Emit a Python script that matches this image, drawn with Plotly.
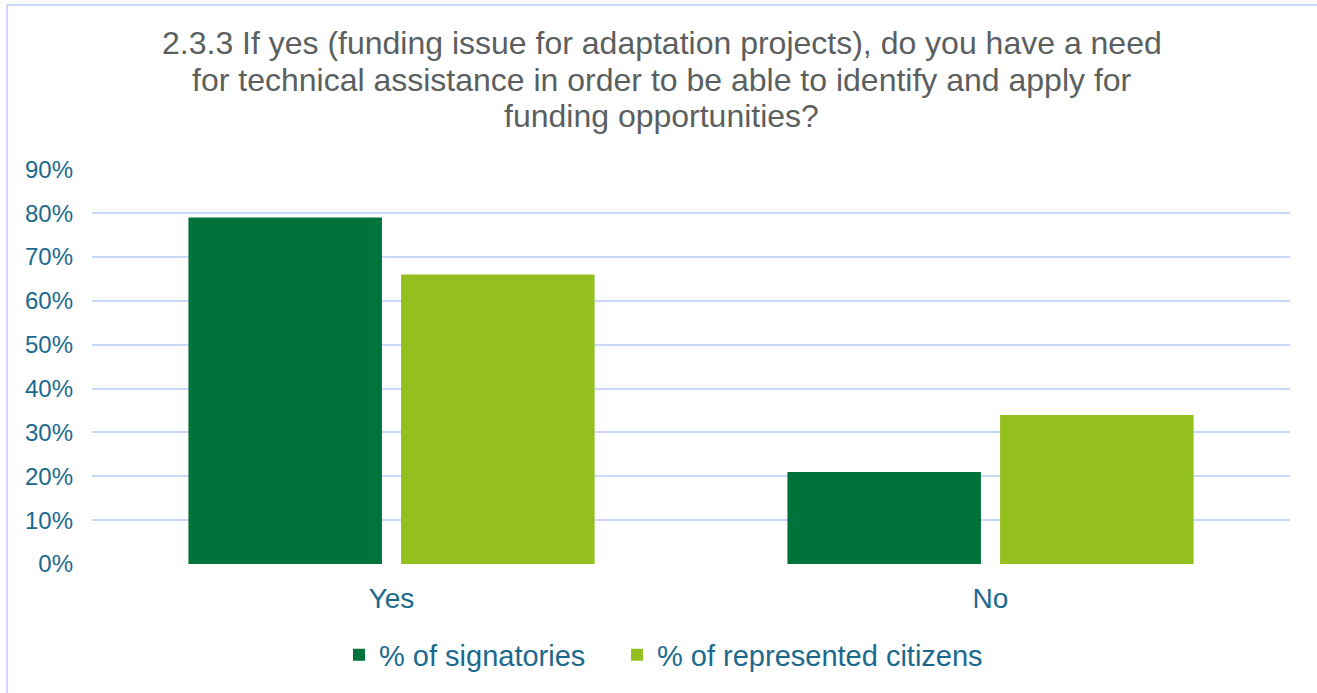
import plotly.graph_objects as go

# ---- data -------------------------------------------------------------
categories = ["Yes", "No"]
signatories = [0.79, 0.21]
represented_citizens = [0.66, 0.34]
series_names = ["% of signatories", "% of represented citizens"]
series_colors = ["#00733A", "#93C01F"]
y_tick_values = [0, 0.1, 0.2, 0.3, 0.4, 0.5, 0.6, 0.7, 0.8, 0.9]
y_tick_labels = ["0%", "10%", "20%", "30%", "40%", "50%", "60%", "70%", "80%", "90%"]
title_lines = [
    "2.3.3 If yes (funding issue for adaptation projects), do you have a need",
    "for technical assistance in order to be able to identify and apply for",
    "funding opportunities?",
]

# ---- layout geometry (pixels) -----------------------------------------
W, H = 1317, 693
M_L, M_R, M_T, M_B = 92, 27, 169, 129
PLOT_W = W - M_L - M_R
PLOT_H = H - M_T - M_B

FONT = "Liberation Sans, Arial, sans-serif"
AXIS_TEXT = "#1B6A8E"
TITLE_TEXT = "#5B5F5F"
GRID = "#C9D9F7"


def paper_x(px):
    return (px - M_L) / PLOT_W


def paper_y(py):
    return (H - M_B - py) / PLOT_H


# each series gets its own legend box so the two entries can be spaced freely
legend_ids = ["legend", "legend2"]
legend_left_px = [353, 631]

fig = go.Figure()
for name, vals, color, lid in zip(series_names, [signatories, represented_citizens],
                                  series_colors, legend_ids):
    fig.add_trace(go.Bar(name=name, x=categories, y=vals, legend=lid,
                         marker=dict(color=color, line=dict(width=0))))

# title, one annotation per line so the line spacing stays tight
title_centers = [43, 80, 116]
for line, cy in zip(title_lines, title_centers):
    fig.add_annotation(
        text=line, xref="paper", yref="paper", x=paper_x(661.5), y=paper_y(cy),
        xanchor="center", yanchor="middle", showarrow=False,
        font=dict(family=FONT, size=32, color=TITLE_TEXT),
    )

# outer chart frame
fig.add_shape(
    type="rect", xref="paper", yref="paper",
    x0=paper_x(7), x1=paper_x(W + 20), y0=paper_y(H + 20), y1=paper_y(5),
    line=dict(color=GRID, width=2), fillcolor="rgba(0,0,0,0)", layer="below",
)

legend_style = dict(
    orientation="h", xref="container", yref="container",
    xanchor="left", y=1 - 655 / H, yanchor="middle",
    font=dict(family=FONT, size=29, color=AXIS_TEXT),
    bgcolor="rgba(0,0,0,0)",
)

fig.update_layout(
    width=W, height=H,
    margin=dict(l=M_L, r=M_R, t=M_T, b=M_B, pad=0),
    paper_bgcolor="white", plot_bgcolor="white",
    barmode="group", bargap=0.29, bargroupgap=0.09,
    showlegend=True,
    legend=dict(legend_style, x=(legend_left_px[0] - 14) / W),
    legend2=dict(legend_style, x=(legend_left_px[1] - 14) / W),
    xaxis=dict(
        showline=False, showgrid=False, zeroline=False, ticks="",
        tickfont=dict(family=FONT, size=28, color=AXIS_TEXT),
        ticklabelstandoff=15,
    ),
    yaxis=dict(
        range=[0, 0.9008], tickvals=y_tick_values, ticktext=y_tick_labels,
        showgrid=True, gridcolor=GRID, gridwidth=2,
        zeroline=False, showline=False, ticks="",
        tickfont=dict(family=FONT, size=24, color=AXIS_TEXT),
        ticklabelstandoff=18,
    ),
)

fig.write_html("out.html")
